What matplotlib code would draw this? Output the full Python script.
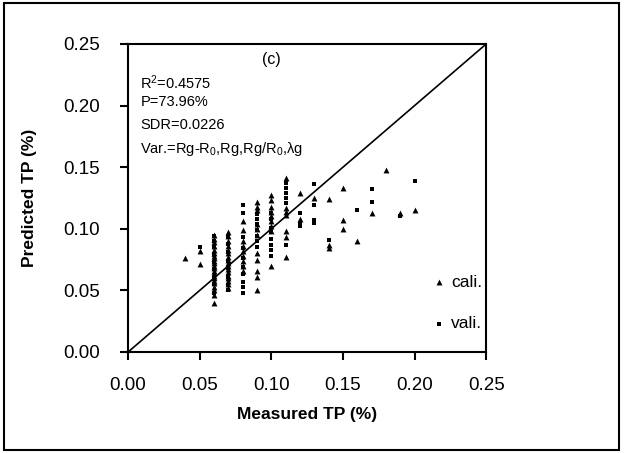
import matplotlib
matplotlib.use("Agg")
import matplotlib.pyplot as plt
from matplotlib.patches import Rectangle

plt.rcParams['font.family'] = ['Liberation Sans', 'DejaVu Sans']
plt.rcParams['mathtext.fontset'] = 'custom'
plt.rcParams['mathtext.rm'] = 'Liberation Sans'
plt.rcParams['mathtext.it'] = 'Liberation Sans:italic'

# calibration set (triangles)
cali_measured = ([0.04] + [0.05] * 2 + [0.06] * 22 + [0.07] * 17 + [0.08] * 9 + [0.09] * 11
                 + [0.10] * 9 + [0.11] * 7 + [0.12] * 2 + [0.13] + [0.14] * 3 + [0.15] * 3
                 + [0.16, 0.17, 0.18, 0.19, 0.20])
cali_predicted = [0.076,
                  0.082, 0.071,
                  0.040, 0.046, 0.050, 0.053, 0.056, 0.058, 0.060, 0.062, 0.064, 0.066, 0.068,
                  0.070, 0.072, 0.074, 0.076, 0.078, 0.080, 0.083, 0.086, 0.089, 0.092, 0.095,
                  0.052, 0.055, 0.058, 0.060, 0.062, 0.065, 0.067, 0.070, 0.072, 0.075, 0.077,
                  0.080, 0.083, 0.086, 0.090, 0.094, 0.097,
                  0.066, 0.070, 0.074, 0.078, 0.082, 0.086, 0.090, 0.099, 0.106,
                  0.050, 0.061, 0.066, 0.075, 0.080, 0.095, 0.100, 0.104, 0.115, 0.118, 0.122,
                  0.070, 0.098, 0.102, 0.106, 0.110, 0.114, 0.118, 0.123, 0.127,
                  0.077, 0.093, 0.098, 0.111, 0.114, 0.117, 0.141,
                  0.129, 0.108,
                  0.125,
                  0.124, 0.087, 0.084,
                  0.133, 0.107, 0.100,
                  0.090, 0.113, 0.148, 0.113, 0.115]

# validation set (small squares)
vali_measured = ([0.05] + [0.06] * 9 + [0.07] * 8 + [0.08] * 10 + [0.09] * 7 + [0.10] * 8
                 + [0.11] * 6 + [0.12] * 3 + [0.13] * 4 + [0.14, 0.16, 0.17, 0.17, 0.19, 0.20])
vali_predicted = [0.085,
                  0.048, 0.055, 0.061, 0.067, 0.073, 0.079, 0.085, 0.090, 0.094,
                  0.050, 0.054, 0.061, 0.068, 0.074, 0.081, 0.088, 0.093,
                  0.048, 0.053, 0.057, 0.063, 0.069, 0.076, 0.084, 0.093, 0.113, 0.119,
                  0.085, 0.090, 0.094, 0.099, 0.104, 0.108, 0.112,
                  0.078, 0.083, 0.087, 0.092, 0.097, 0.101, 0.108, 0.113,
                  0.087, 0.121, 0.125, 0.129, 0.133, 0.137,
                  0.113, 0.105, 0.102,
                  0.136, 0.119, 0.107, 0.105,
                  0.091, 0.115, 0.132, 0.122, 0.110, 0.139]

ticks = [0.00, 0.05, 0.10, 0.15, 0.20, 0.25]

fig = plt.figure(figsize=(6.25, 4.53), dpi=100)
ax = fig.add_axes([0.205, 0.223, 0.573, 0.680])

# border round the whole figure
fig.patches.append(Rectangle((0.007, 0.007), 0.984, 0.986, transform=fig.transFigure,
                             fill=False, edgecolor='black', linewidth=1.5))

ax.plot([0, 0.25], [0, 0.25], color='black', linewidth=1.2)
ax.scatter(cali_measured, cali_predicted, marker='^', s=18, color='black', linewidths=0, label='cali.')
ax.scatter(vali_measured, vali_predicted, marker='s', s=6, color='black', linewidths=0, label='vali.')

ax.set_xlim(0, 0.25)
ax.set_ylim(0, 0.25)
ax.set_xticks(ticks)
ax.set_yticks(ticks)
ax.set_xticklabels(['%.2f' % t for t in ticks])
ax.set_yticklabels(['%.2f' % t for t in ticks])
ax.tick_params(direction='out', length=6, width=1.5, labelsize=13.5)
ax.tick_params(axis='x', pad=12)
ax.tick_params(axis='y', pad=14)
for sp in ax.spines.values():
    sp.set_linewidth(1.5)

ax.set_xlabel('Measured TP (%)', fontsize=12.5, fontweight='bold')
ax.set_ylabel('Predicted TP (%)', fontsize=12.5, fontweight='bold')
ax.xaxis.set_label_coords(0.5, -0.18)
ax.yaxis.set_label_coords(-0.255, 0.5)

ax.text(0.40, 0.975, '(c)', transform=ax.transAxes, fontsize=11.5, ha='center', va='top')
stats = ['R$^2$=0.4575', 'P=73.96%', 'SDR=0.0226', 'Var.=Rg-R$_0$,Rg,Rg/R$_0$,λg']
for i, s in enumerate(stats):
    ax.text(0.034, 0.905 - i * 0.072, s, transform=ax.transAxes, fontsize=10.5, ha='left', va='top')

ax.legend(loc='lower left', bbox_to_anchor=(0.83, 0.045), frameon=False, fontsize=12.5,
          handlelength=0.8, handletextpad=0.3, labelspacing=1.5, markerscale=1.0,
          borderaxespad=0)

fig.savefig('out.png', dpi=100)
